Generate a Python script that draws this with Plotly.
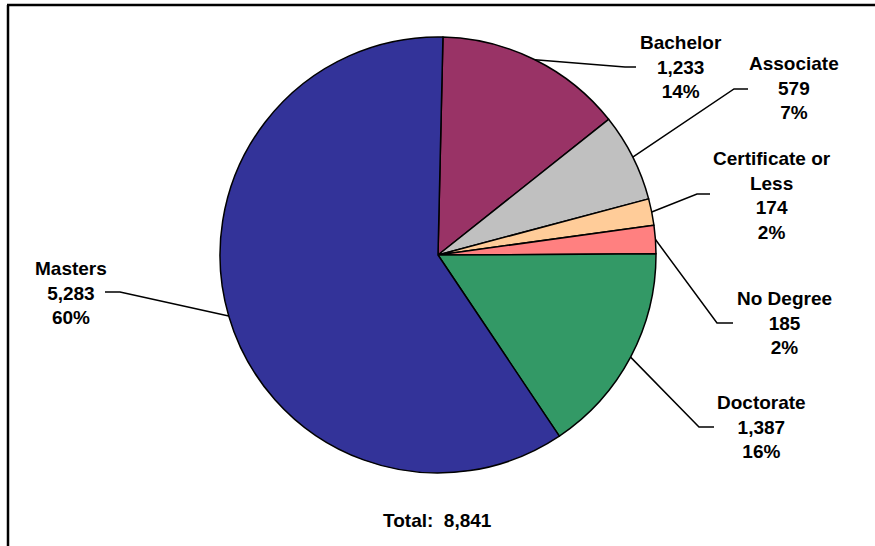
import math
import plotly.graph_objects as go

# ---- data ----
categories = ["Bachelor", "Associate", "Certificate or Less", "No Degree", "Doctorate", "Masters"]
label_text = ["Bachelor", "Associate", "Certificate or<br>Less", "No Degree", "Doctorate", "Masters"]
values = [1233, 579, 174, 185, 1387, 5283]
colors = ["#993366", "#C0C0C0", "#FFCC99", "#FF8080", "#339966", "#333399"]

W, H = 875, 546
CX, CY, R = 438, 255, 218          # pie centre / radius in pixels
ROTATION = 1.3

# label layout (pixel positions): label centre, leader elbow, leader end
label_pos = [(681, 67), (794, 88.5), (772, 195), (784, 323), (761.5, 427), (71, 293)]
elbow_pos = [(625, 67), (734, 89), (697, 194), (717, 323), (699, 427), (120, 292)]
end_pos = [(636, 67), (748, 89), (710, 194), (733, 323), (714, 427), (105, 292)]


def px(x):
    return x / W


def py(y):
    return 1 - y / H


total = sum(values)
FONT = dict(family="Liberation Sans, Arial, sans-serif", size=19, color="black", weight="bold")

fig = go.Figure(go.Pie(
    labels=categories, values=values, sort=False, direction="clockwise",
    rotation=ROTATION, textinfo="none", hoverinfo="label+value+percent",
    marker=dict(colors=colors, line=dict(color="black", width=1.5)),
    domain=dict(x=[px(CX - R), px(CX + R)], y=[py(CY + R), py(CY - R)]),
    showlegend=False,
))

shapes = []
annotations = []
cum = 0
for i, v in enumerate(values):
    mid = math.radians(ROTATION + (cum + v / 2) / total * 360)
    cum += v
    sx, sy = CX + R * math.sin(mid), CY - R * math.cos(mid)
    ex, ey = elbow_pos[i]
    fx, fy = end_pos[i]
    shapes.append(dict(type="path", xref="paper", yref="paper",
                       path=f"M {px(sx)},{py(sy)} L {px(ex)},{py(ey)} L {px(fx)},{py(fy)}",
                       line=dict(color="black", width=1.5)))
    pct = round(v / total * 100)
    annotations.append(dict(x=px(label_pos[i][0]), y=py(label_pos[i][1]), xref="paper", yref="paper",
                            text=f"{label_text[i]}<br>{v:,}<br>{pct}%", showarrow=False,
                            xanchor="center", yanchor="middle", align="center", font=FONT))

annotations.append(dict(x=px(437), y=py(520), xref="paper", yref="paper",
                        text=f"Total:  {total:,}", showarrow=False,
                        xanchor="center", yanchor="middle", font=FONT))

# chart frame (top and left edges visible)
shapes.append(dict(type="line", xref="paper", yref="paper", x0=px(7), x1=1, y0=py(5), y1=py(5),
                   line=dict(color="black", width=2.5)))
shapes.append(dict(type="line", xref="paper", yref="paper", x0=px(8), x1=px(8), y0=py(5), y1=0,
                   line=dict(color="black", width=2.5)))

fig.update_layout(width=W, height=H, margin=dict(l=0, r=0, t=0, b=0),
                  paper_bgcolor="white", plot_bgcolor="white",
                  shapes=shapes, annotations=annotations)

fig.write_html("out.html", config={"displayModeBar": False},
               post_script="document.body.style.margin='0';document.body.style.overflow='hidden';")
